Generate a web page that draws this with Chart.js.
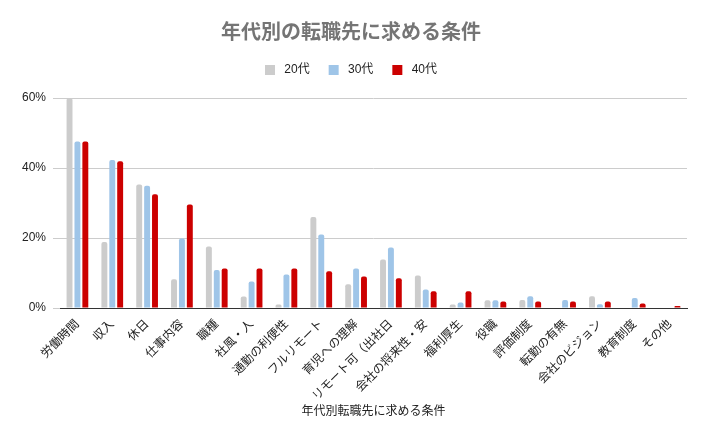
<!DOCTYPE html>
<html>
<head>
<meta charset="utf-8">
<script src="https://cdn.jsdelivr.net/npm/chart.js@4/dist/chart.umd.min.js"></script>
<style>
  html, body { margin: 0; padding: 0; background: #fff; }
  #wrap { width: 715px; height: 442px; }
</style>
</head>
<body>
<div id="wrap"><canvas id="jobChart" width="715" height="442"></canvas></div>
<script>
// categories and values (percent)
const categories = [
  '労働時間', '収入', '休日', '仕事内容', '職種', '社風・人', '通勤の利便性',
  'フルリモート', '育児への理解', 'リモート可（出社日', '会社の将来性・安',
  '福利厚生', '役職', '評価制度', '転勤の有無', '会社のビジョン', '教育制度', 'その他'
];
const seriesNames = ['20代', '30代', '40代'];
const values20 = [60, 18.9, 35.3, 8.2, 17.6, 3.3, 1.0, 26.0, 6.8, 13.9, 9.3, 1.0, 2.2, 2.3, 0, 3.4, 0, 0];
const values30 = [47.6, 42.3, 34.9, 19.9, 10.9, 7.6, 9.6, 21.0, 11.3, 17.3, 5.3, 1.6, 2.2, 3.4, 2.3, 1.1, 2.9, 0];
const values40 = [47.6, 41.9, 32.5, 29.6, 11.3, 11.3, 11.3, 10.5, 9.0, 8.5, 4.8, 4.8, 1.9, 1.9, 1.9, 1.9, 1.3, 0.6];
const yTicks = [0, 20, 40, 60];
const colors = ['#cccccc', '#9fc5e8', '#cc0000'];

const FONT = "'Liberation Sans', 'Noto Sans CJK JP', sans-serif";

const allValues = [values20, values30, values40];
const datasets = seriesNames.map((name, i) => ({
  label: name,
  data: allValues[i],
  backgroundColor: colors[i],
  borderRadius: 2,
  categoryPercentage: 0.68,
  barPercentage: 0.75
}));

// extra space under the legend
const legendGap = {
  id: 'legendGap',
  beforeInit(chart) {
    const fit = chart.legend.fit;
    chart.legend.fit = function () {
      fit.bind(chart.legend)();
      this.height += 12;
    };
  }
};

new Chart(document.getElementById('jobChart'), {
  type: 'bar',
  data: { labels: categories, datasets: datasets },
  plugins: [legendGap],
  options: {
    responsive: false,
    animation: false,
    layout: { padding: { left: 15, right: 28, top: 0, bottom: 23 } },
    plugins: {
      title: {
        display: true,
        text: '年代別の転職先に求める条件',
        color: '#757575',
        font: { family: FONT, size: 20, weight: 'bold' },
        padding: { top: 21, bottom: 0 }
      },
      legend: {
        labels: {
          boxWidth: 10,
          boxHeight: 10,
          padding: 19,
          color: '#222',
          font: { family: FONT, size: 12 },
          generateLabels: chart => Chart.defaults.plugins.legend.labels.generateLabels(chart)
            .map(l => Object.assign(l, { text: ' ' + l.text, lineWidth: 0 }))
        }
      },
      tooltip: { enabled: false }
    },
    scales: {
      x: {
        grid: { display: false },
        border: { display: true, color: '#333', width: 1 },
        ticks: {
          color: '#222',
          padding: 1,
          font: { family: FONT, size: 12 },
          minRotation: 45,
          maxRotation: 45,
          autoSkip: false
        },
        title: {
          display: true,
          text: '年代別転職先に求める条件',
          color: '#222',
          font: { family: FONT, size: 12 },
          padding: { top: 0, bottom: 0 }
        }
      },
      y: {
        min: 0,
        max: 60,
        afterBuildTicks: axis => { axis.ticks = yTicks.map(v => ({ value: v })); },
        grid: { color: '#cccccc', tickLength: 7, drawTicks: true },
        border: { display: false },
        ticks: {
          color: '#222',
          padding: 7,
          font: { family: FONT, size: 12 },
          callback: v => v + '%'
        }
      }
    }
  }
});
</script>
</body>
</html>
